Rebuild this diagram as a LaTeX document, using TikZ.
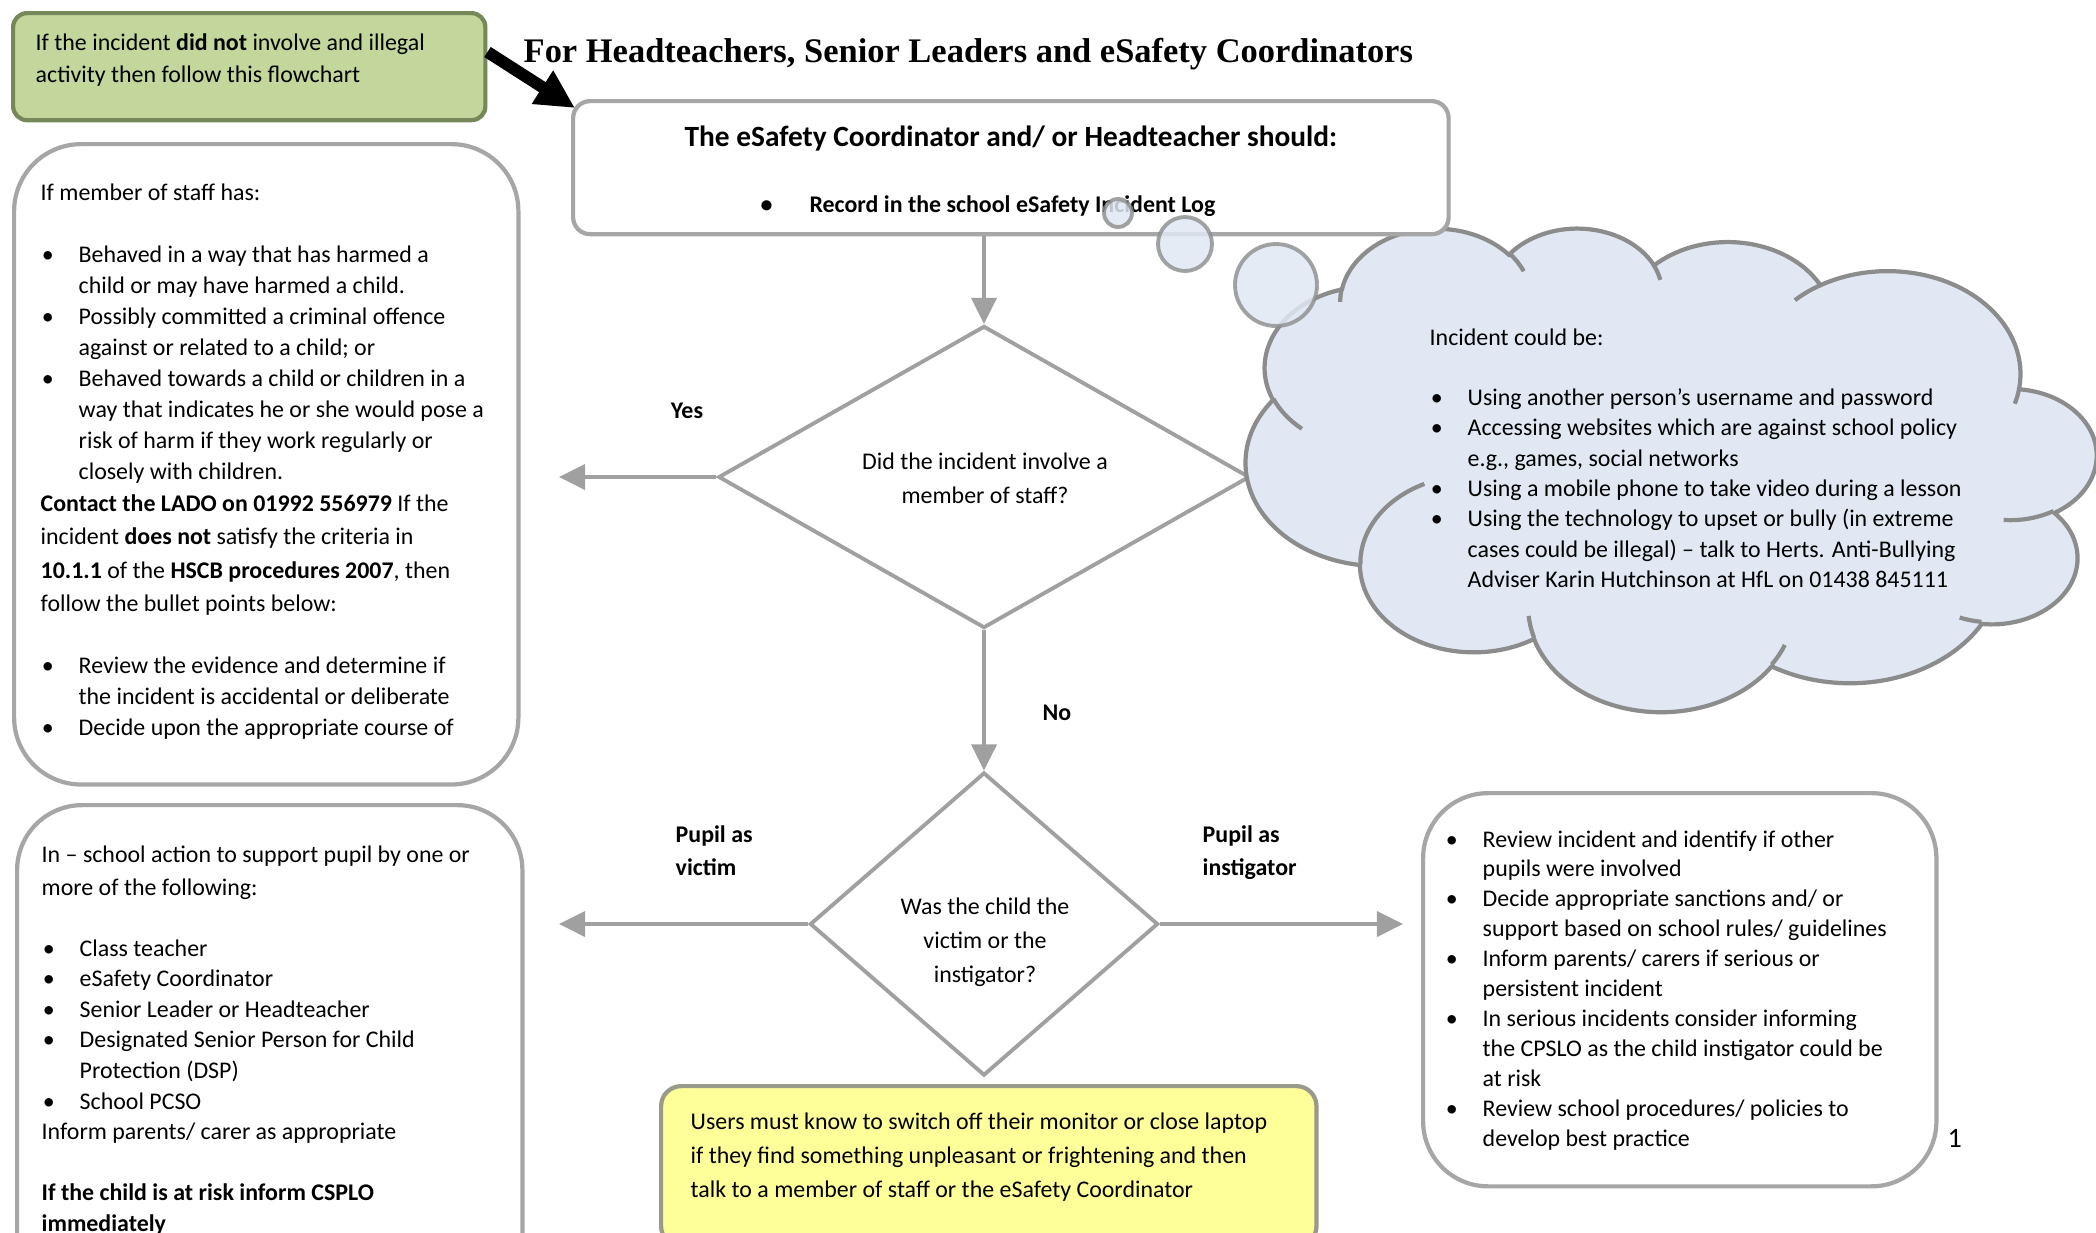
\documentclass[tikz,border=0pt]{standalone}
\usepackage{fontspec}
\setmainfont{Carlito}
\newfontfamily\titlefont{Liberation Serif}
\usetikzlibrary{positioning,arrows.meta,shapes.geometric,shadows}
\definecolor{linegray}{HTML}{A0A0A0}
\definecolor{boxgray}{HTML}{A6A6A6}
\definecolor{cloudfill}{HTML}{E1E8F3}
\definecolor{cloudline}{HTML}{8C8C8C}
\definecolor{notefill}{HTML}{C3D69B}
\definecolor{noteline}{HTML}{76875A}
\definecolor{userfill}{HTML}{FFFF99}
\definecolor{userline}{HTML}{9A9A8A}
\newcommand\bitem{\makebox[10.8pt][l]{\hspace{0.3pt}\textbullet}}
\newcommand\bcont{\hspace*{10.8pt}}
\newcommand\txtlines[2]{\fontsize{6.8}{#1}\selectfont\begin{tabular}[t]{@{}l@{}}#2\end{tabular}}
\newcommand\ctrlines[2]{\fontsize{6.8}{#1}\selectfont\begin{tabular}[t]{@{}c@{}}#2\end{tabular}}

\begin{document}
\begin{tikzpicture}[x=0.01cm,y=-0.01cm,
  declare function={vis(\a,\w,\h)=atan2(\w*sin(\a),\h*cos(\a));
    dlt(\a,\d,\w,\h)=mod(vis(\a+\d,\w,\h)-vis(\a,\w,\h)+720,360);},
  box/.style={draw=boxgray,line width=1.2pt,fill=white,inner sep=0pt,anchor=north west},
  txt/.style={anchor=base west,inner sep=0pt},
  ctxt/.style={anchor=base,inner sep=0pt},
  lbl/.style={anchor=base,inner sep=0pt,font=\bfseries\fontsize{6.8}{8}\selectfont},
  choice/.style={diamond,draw=linegray,line width=1.1pt,inner sep=0pt},
  flow/.style={draw=linegray,line width=1.1pt,-{Triangle[length=7.4pt,width=7.1pt]}},
  cloudedge/.style={draw=cloudline,line width=1.2pt},
  bubble/.style={draw=cloudline,draw opacity=.8,fill=cloudfill,fill opacity=.85,line width=1.1pt}]
\useasboundingbox (0,0) rectangle (2096,1232);

% note and title
\node[box,draw=noteline,fill=notefill,rounded corners=0.14cm,minimum width=4.72cm,minimum height=1.07cm,
  drop shadow={shadow xshift=.5pt,shadow yshift=-.5pt,opacity=.35}] (note) at (11,11) {};
\node[txt] (notetxt) at (35,50) {\txtlines{9.1pt}{If the incident \textbf{did not} involve and illegal\\activity then follow this flowchart}};
\node[txt,font=\titlefont\fontsize{9.8}{11}\selectfont\bfseries] (title) at (523,62) {For Headteachers, Senior Leaders and eSafety Coordinators};

% decisions
\node[choice,minimum width=5.31cm,minimum height=3.02cm] (staffq) at (984,477) {};
\node[choice,minimum width=3.48cm,minimum height=3.03cm] (roleq) at (984,924) {};

% thought cloud (office cloud outline, mirrored)
\begin{scope}[shift={(2096,227)},x=-0.019676cm,y=-0.011181cm]
\draw[cloudedge,fill=cloudfill] (39.00,143.70)
  \foreach \rx/\ry/\sa/\sw in {67.53/91.90/-190.4875/123.7805, 53.33/72.67/-144.1024/89.9452,
    43.65/59.45/-145.8079/99.7230, 48.57/65.95/-130.9861/117.2417, 53.33/72.73/-78.7089/109.0269,
    67.75/92.20/-46.2673/130.2690, 57.85/78.67/0.6250/114.0333, 67.52/92.15/22.4516/115.1726,
    77.20/105.43/66.2426/75.7110, 43.60/59.18/-274.9421/146.7356, 43.45/59.45/-246.8285/152.5189}
  { arc[x radius=\rx,y radius=\ry,start angle={vis(\sa,\rx,\ry)},delta angle={dlt(\sa,\sw,\rx,\ry)}] } -- cycle;
\foreach \px/\py/\rx/\ry/\sa/\sw in {46.93/261.77/43.45/59.45/86.7420/26.4295,
    69.28/348.99/43.60/59.18/73.6105/11.4475, 164.78/390.90/67.52/92.15/137.6242/14.0811,
    288.27/347.51/67.52/92.15/6.4533/15.9984, 341.29/229.54/57.85/78.67/-70.2924/70.9174,
    417.98/153.54/53.33/72.73/30.3180/27.7515, 383.24/54.26/48.57/65.95/-13.7443/14.8589,
    290.78/39.52/48.57/65.95/-149.1815/18.1954, 221.41/47.20/43.65/59.45/-163.4943/17.6864,
    140.00/51.92/67.53/91.90/-66.7070/12.3194, 41.27/157.89/67.53/91.90/157.6544/11.8582}
  \draw[cloudedge] (\px,\py) arc[x radius=\rx,y radius=\ry,start angle={vis(\sa,\rx,\ry)},delta angle={dlt(\sa,\sw,\rx,\ry)}];
\end{scope}

% top box
\node[box,rounded corners=0.17cm,minimum width=8.75cm,minimum height=1.33cm,
  drop shadow={shadow xshift=.5pt,shadow yshift=-.5pt,opacity=.3}] (coord) at (571,99) {};
\node[ctxt,font=\bfseries\fontsize{8.35}{9}\selectfont] (coordhead) at (coord.north |- 0,146) {The eSafety Coordinator and/ or Headteacher should:};
\node[txt,font=\bfseries\fontsize{6.8}{8}\selectfont] (coordlog) at (760,212) {\makebox[13.9pt][l]{\textbullet}Record in the school eSafety Incident Log};

\draw[bubble] (1118,213) circle[radius=14];
\draw[bubble] (1185,244) circle[radius=27];
\draw[bubble] (1276,285) circle[radius=41];

% arrows
\coordinate (notetip) at (575,108);
\draw[line width=3.4pt,-{Triangle[length=11pt,width=10.5pt]}] (note.east |- 0,52) -- (notetip);
\coordinate (yesend) at (559,477);
\coordinate (victimend) at (559,924);
\coordinate (instend) at (1403,924);
\draw[flow] (coord.south -| staffq.north) -- (staffq.north);
\draw[flow] (staffq.west) -- (yesend);
\draw[flow] (staffq.south) -- (roleq.north);
\draw[flow] (roleq.west) -- (victimend);
\draw[flow] (roleq.east) -- (instend);

\node[ctxt] (staffqtxt) at (985,469) {\ctrlines{9.67pt}{Did the incident involve a\\member of staff?}};
\node[ctxt] (roleqtxt) at (985,914) {\ctrlines{9.8pt}{Was the child the\\victim or the\\instigator?}};
\node[lbl] (yes) at (687,418) {Yes};
\node[lbl] (no) at (1057,720) {No};
\node[txt] (victimlbl) at (675,842) {\txtlines{9.4pt}{\textbf{Pupil as}\\\textbf{victim}}};
\node[txt] (instlbl) at (1202,842) {\txtlines{9.4pt}{\textbf{Pupil as}\\\textbf{instigator}}};

% staff box
\node[box,rounded corners=0.67cm,minimum width=5.04cm,minimum height=6.40cm] (staffbox) at (12,142) {};
\node[txt] (stafftxt) at (40,200) {\txtlines{8.82pt}{If member of staff has:\\ \\
\bitem Behaved in a way that has harmed a\\
\bcont child or may have harmed a child.\\
\bitem Possibly committed a criminal offence\\
\bcont against or related to a child; or\\
\bitem Behaved towards a child or children in a\\
\bcont way that indicates he or she would pose a\\
\bcont risk of harm if they work regularly or\\
\bcont closely with children.\\[0.4pt]
\textbf{Contact the LADO on 01992 556979} If the\\[0.4pt]
incident \textbf{does not} satisfy the criteria in\\[1.1pt]
\textbf{10.1.1} of the \textbf{HSCB procedures 2007}, then\\[0.4pt]
follow the bullet points below:\\ \\
\bitem Review the evidence and determine if\\
\bcont the incident is accidental or deliberate\\
\bitem Decide upon the appropriate course of}};

% victim box
\node[box,rounded corners=0.65cm,minimum width=5.05cm,minimum height=4.97cm] (victimbox) at (15,803) {};
\node[txt] (victimtxt) at (41,862) {\txtlines{8.68pt}{In -- school action to support pupil by one or\\[0.8pt]
more of the following:\\ \\
\bitem Class teacher\\
\bitem eSafety Coordinator\\
\bitem Senior Leader or Headteacher\\
\bitem Designated Senior Person for Child\\
\bcont Protection (DSP)\\
\bitem School PCSO\\
Inform parents/ carer as appropriate\\ \\
\textbf{If the child is at risk inform CSPLO}\\
\textbf{immediately}}};

% instigator box
\node[box,rounded corners=0.65cm,minimum width=5.13cm,minimum height=3.93cm] (instbox) at (1421,791) {};
\node[txt] (insttxt) at (1444,847) {\txtlines{8.51pt}{\bitem Review incident and identify if other\\
\bcont pupils were involved\\
\bitem Decide appropriate sanctions and/ or\\
\bcont support based on school rules/ guidelines\\
\bitem Inform parents/ carers if serious or\\
\bcont persistent incident\\
\bitem In serious incidents consider informing\\
\bcont the CPSLO as the child instigator could be\\
\bcont at risk\\
\bitem Review school procedures/ policies to\\
\bcont develop best practice}};

% users box
\node[box,draw=userline,fill=userfill,rounded corners=0.2cm,minimum width=6.55cm,minimum height=1.6cm] (userbox) at (659,1084) {};
\node[txt] (usertxt) at (690,1129) {\txtlines{9.67pt}{Users must know to switch off their monitor or close laptop\\
if they find something unpleasant or frightening and then\\
talk to a member of staff or the eSafety Coordinator}};

% cloud text
\node[txt] (examplestxt) at (1429,345) {\txtlines{8.62pt}{Incident could be:\\ \\
\bitem Using another person's username and password\\
\bitem Accessing websites which are against school policy\\
\bcont e.g., games, social networks\\
\bitem Using a mobile phone to take video during a lesson\\
\bitem Using the technology to upset or bully (in extreme\\
\bcont cases could be illegal) -- talk to Herts. Anti-Bullying\\
\bcont Adviser Karin Hutchinson at HfL on 01438 845111}};

\node[txt,font=\fontsize{8}{9}\selectfont] (pagenum) at (1947,1147) {1};
\end{tikzpicture}
\end{document}
